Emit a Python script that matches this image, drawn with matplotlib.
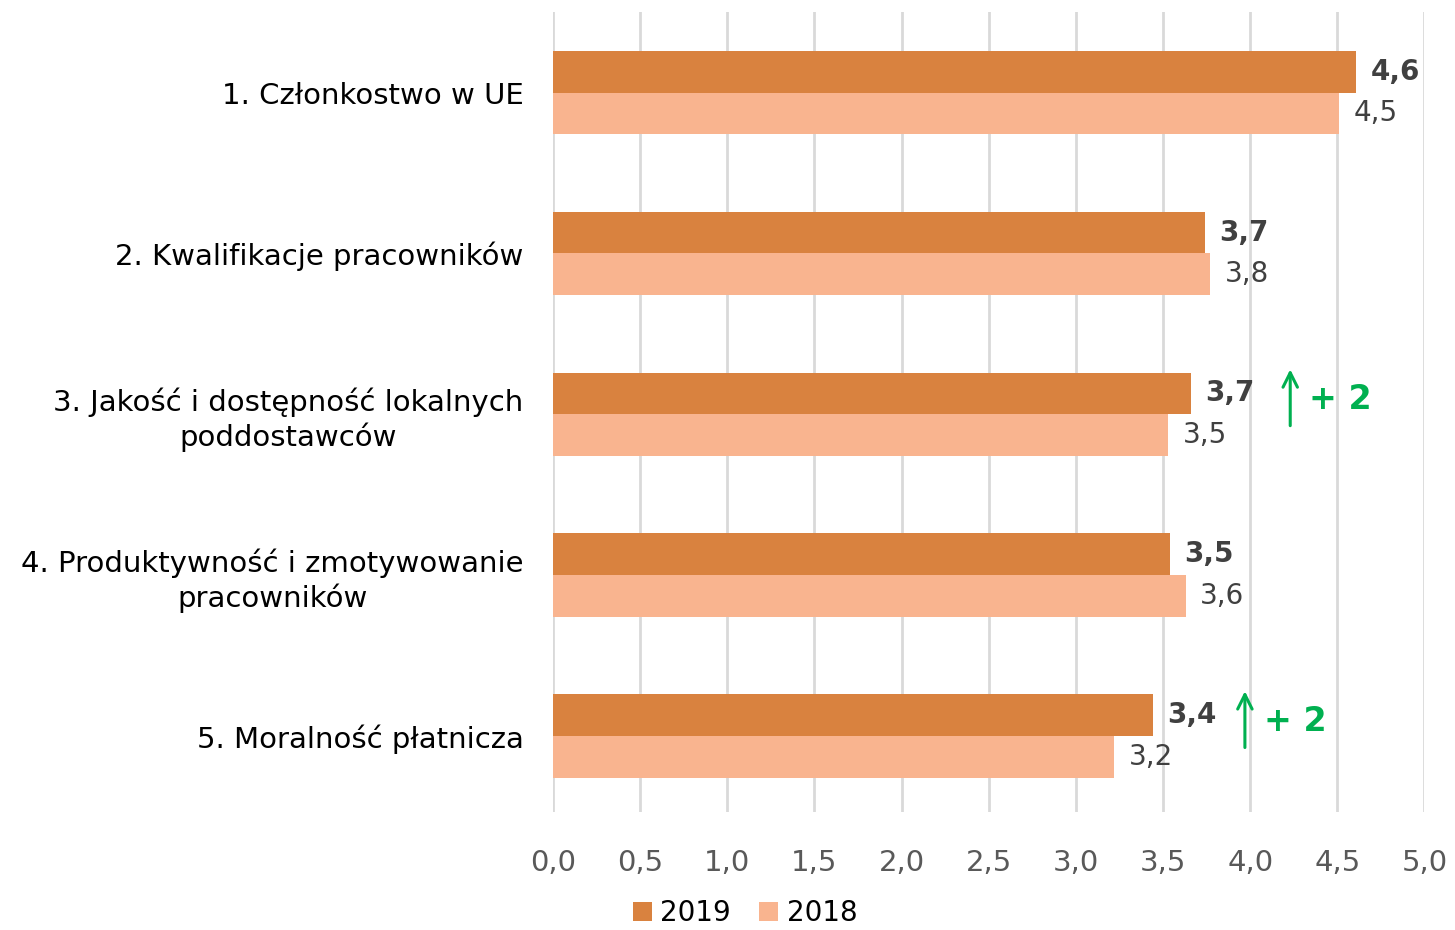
import matplotlib
matplotlib.use("Agg")
import matplotlib.pyplot as plt
import numpy as np

categories = ["1. Członkostwo w UE",
              "2. Kwalifikacje pracowników",
              "3. Jakość i dostępność lokalnych\npoddostawców",
              "4. Produktywność i zmotywowanie\npracowników",
              "5. Moralność płatnicza"]
values_2019 = [4.61, 3.74, 3.66, 3.54, 3.44]
values_2018 = [4.51, 3.77, 3.53, 3.63, 3.22]
series_names = ["2019", "2018"]
xticks = [0.0, 0.5, 1.0, 1.5, 2.0, 2.5, 3.0, 3.5, 4.0, 4.5, 5.0]
# annotations: (category index, x position of arrow, text)
annotations = [(2, 4.23, "+ 2"), (4, 3.97, "+ 2")]

c2019 = "#D9823F"
c2018 = "#F9B48F"
green = "#00B050"

plt.rcParams['font.family'] = ['DejaVu Sans']

fig = plt.figure(figsize=(14.55, 9.3), dpi=100)
ax = fig.add_axes([0.380, 0.127, 0.599, 0.860])

y = np.arange(len(categories))
h = 0.26
ax.barh(y - h/2, values_2019, height=h, color=c2019, label=series_names[0], zorder=3)
ax.barh(y + h/2, values_2018, height=h, color=c2018, label=series_names[1], zorder=3)

def fmt(v):
    return f"{v:.1f}".replace(".", ",")

for i in range(len(categories)):
    ax.annotate(fmt(values_2019[i]), (values_2019[i], y[i] - h/2), xytext=(10.5, 0),
                textcoords="offset points", ha="left", va="center",
                fontsize=20, fontweight="bold", color="#404040")
    ax.annotate(fmt(values_2018[i]), (values_2018[i], y[i] + h/2), xytext=(10.5, 0),
                textcoords="offset points", ha="left", va="center",
                fontsize=20, color="#404040")

for idx, xa, txt in annotations:
    ax.annotate("", xy=(xa, idx - 0.28), xytext=(xa, idx + 0.07),
                arrowprops=dict(arrowstyle="->", color=green, lw=2.2,
                                mutation_scale=26, shrinkA=0, shrinkB=0), zorder=5)
    ax.text(xa + 0.11, idx - h/2 + 0.04, txt, ha="left", va="center",
            fontsize=24, fontweight="bold", color=green, zorder=5)

ax.set_xlim(0, 5)
ax.set_ylim(4.47, -0.5)
ax.set_xticks(xticks)
ax.set_xticklabels([fmt(t) for t in xticks], fontsize=21, color="#595959")
ax.set_yticks(y)
ax.set_yticklabels(categories, fontsize=21, color="black", ha="right",
                   multialignment="center")
ax.tick_params(axis="y", length=0, pad=21)
ax.tick_params(axis="x", length=0, pad=27)
ax.xaxis.grid(True, color="#D9D9D9", lw=2, zorder=0)
for s in ax.spines.values():
    s.set_visible(False)

handles, labels = ax.get_legend_handles_labels()
fig.legend(handles, labels, loc="lower center", bbox_to_anchor=(0.512, -0.024),
           ncol=2, frameon=False, fontsize=20, handlelength=0.7, handleheight=0.7,
           handletextpad=0.3, columnspacing=1.0)

fig.savefig("out.png", dpi=100)
